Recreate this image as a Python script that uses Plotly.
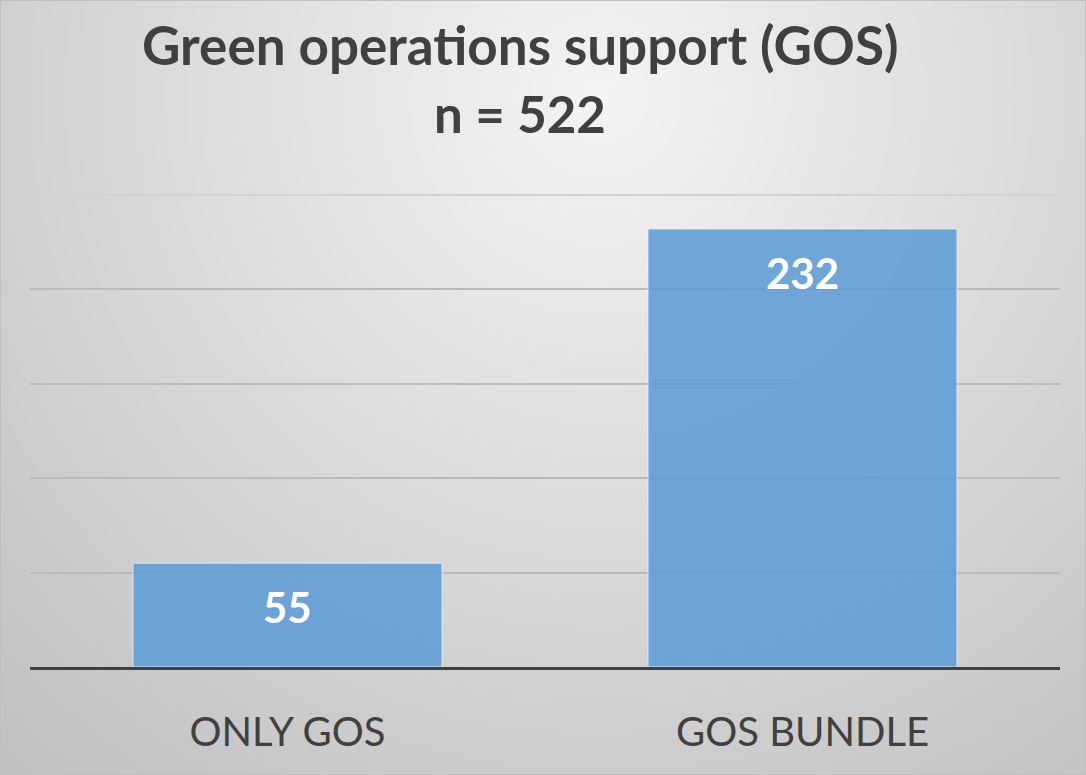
import base64, struct, zlib
import numpy as np
import plotly.graph_objects as go

categories = ["ONLY GOS", "GOS BUNDLE"]
values = [55, 232]
title_line1 = "Green operations support (GOS)"
title_line2 = "n = 522"

W, H = 1086, 775
ML, MR, MT, MB = 30, 26, 195, 108
PW, PH = W - ML - MR, H - MT - MB

# radial gradient background as PNG data URI
gw, gh = 272, 194
yy, xx = np.mgrid[0:gh, 0:gw]
cx, cy = 0.55 * gw, 0.12 * gh
d = np.sqrt(((xx - cx) / gw) ** 2 + ((yy - cy) / gw) ** 2)
d = d / d.max()
val = 244 - 52 * d
img = np.clip(val, 0, 255).astype(np.uint8)
raw = b"".join(b"\x00" + bytes(np.repeat(img[r][:, None], 3, axis=1).flatten()) for r in range(gh))

def chunk(t, data):
    c = struct.pack(">I", len(data)) + t + data
    return c + struct.pack(">I", zlib.crc32(t + data) & 0xffffffff)

png = b"\x89PNG\r\n\x1a\n" + chunk(b"IHDR", struct.pack(">IIBBBBB", gw, gh, 8, 2, 0, 0, 0)) \
    + chunk(b"IDAT", zlib.compress(raw, 9)) + chunk(b"IEND", b"")
uri = "data:image/png;base64," + base64.b64encode(png).decode()

fig = go.Figure()
fig.add_trace(go.Bar(
    x=categories, y=values, width=0.6,
    marker=dict(color="rgba(91,155,213,0.85)", line=dict(color="rgba(235,242,250,0.8)", width=1)),
    hoverinfo="skip",
))
for c, v in zip(categories, values):
    fig.add_annotation(x=c, y=v, text=f"<b>{v}</b>", showarrow=False, yanchor="top", yshift=-17,
                       font=dict(family="Lato", size=42, color="white"))

fig.add_annotation(xref="paper", yref="paper", x=(520 - ML) / PW, y=(H - 45 - MB) / PH,
                   text=f"<b>{title_line1}</b>", showarrow=False,
                   xanchor="center", yanchor="middle",
                   font=dict(family="Lato", size=53, color="#404040"))
fig.add_annotation(xref="paper", yref="paper", x=(520 - ML) / PW, y=(H - 113 - MB) / PH,
                   text=f"<b>{title_line2}</b>", showarrow=False,
                   xanchor="center", yanchor="middle",
                   font=dict(family="Lato", size=51, color="#404040"))

fig.add_layout_image(dict(source=uri, xref="paper", yref="paper", x=-ML / PW, y=(PH + MT) / PH,
                          sizex=W / PW, sizey=H / PH, xanchor="left", yanchor="top",
                          sizing="stretch", layer="below"))
fig.add_shape(type="rect", xref="paper", yref="paper", x0=-ML / PW, x1=(PW + MR) / PW,
              y0=-MB / PH, y1=(PH + MT) / PH, line=dict(color="#bfbfbf", width=2), fillcolor="rgba(0,0,0,0)")
# top gridline (lighter)
fig.add_shape(type="line", xref="paper", yref="paper", x0=0, x1=1, y0=1, y1=1,
              line=dict(color="#d2d2d2", width=2), layer="below")

fig.update_layout(
    width=W, height=H, margin=dict(l=ML, r=MR, t=MT, b=MB),
    paper_bgcolor="#e0e0e0", plot_bgcolor="rgba(0,0,0,0)",
    showlegend=False, bargap=0.4,
    xaxis=dict(showgrid=False, zeroline=False, showline=True, linecolor="#404040", linewidth=3,
               ticks="", tickfont=dict(family="Lato", size=40, color="#404040"), ticklabelstandoff=28),
    yaxis=dict(range=[0, 250], dtick=50, showticklabels=False, showgrid=True, gridcolor="#bababa",
               gridwidth=2, zeroline=False, showline=False),
)
fig.write_html("out.html", config={"displayModeBar": False},
               post_script="document.body.style.margin='0';")
